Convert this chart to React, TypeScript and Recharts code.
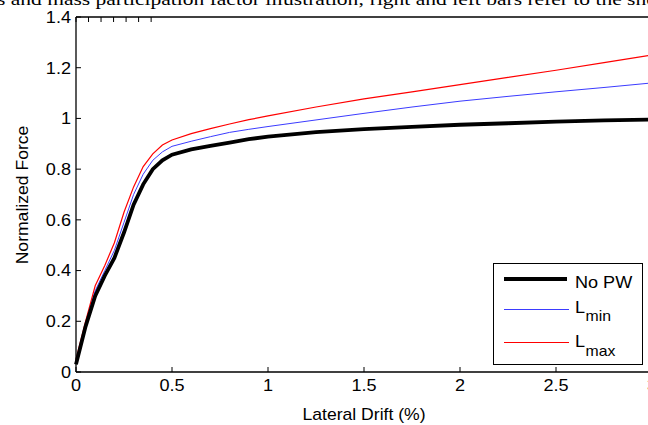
import React from 'react';
import { LineChart, Line, XAxis, YAxis, Legend } from 'recharts';

const drift = [0, 0.05, 0.1, 0.15, 0.2, 0.25, 0.3, 0.35, 0.4, 0.45, 0.5, 0.6, 0.7, 0.8, 0.9, 1.0, 1.25, 1.5, 1.75, 2.0, 2.25, 2.5, 2.75, 3.0];
const noPW = [0.03, 0.18, 0.3, 0.38, 0.45, 0.55, 0.66, 0.74, 0.8, 0.835, 0.857, 0.878, 0.892, 0.905, 0.918, 0.928, 0.946, 0.958, 0.967, 0.975, 0.981, 0.987, 0.992, 0.996];
const lMin = [0.04, 0.19, 0.32, 0.4, 0.48, 0.59, 0.7, 0.78, 0.835, 0.868, 0.89, 0.91, 0.928, 0.945, 0.957, 0.968, 0.994, 1.02, 1.045, 1.068, 1.087, 1.105, 1.122, 1.14];
const lMax = [0.05, 0.2, 0.34, 0.42, 0.51, 0.63, 0.73, 0.81, 0.86, 0.895, 0.915, 0.94, 0.96, 0.978, 0.995, 1.01, 1.045, 1.077, 1.105, 1.133, 1.162, 1.19, 1.22, 1.25];
const xTicks = [0, 0.5, 1, 1.5, 2, 2.5, 3];
const yTicks = [0, 0.2, 0.4, 0.6, 0.8, 1, 1.2, 1.4];
const xTickLabels = ['0', '0.5', '1', '1.5', '2', '2.5', '3'];
const yTickLabels = ['0', '0.2', '0.4', '0.6', '0.8', '1', '1.2', '1.4'];

const data = drift.map((x, i) => ({ x, noPW: noPW[i], lMin: lMin[i], lMax: lMax[i] }));

const FONT = '"Liberation Sans", Arial, sans-serif';
const SX = 1.13;

const XTick = (props: any) => {
  const { x, payload } = props;
  const idx = xTicks.indexOf(payload.value);
  const label = idx >= 0 ? xTickLabels[idx] : String(payload.value);
  return (
    <text transform={`translate(${x},390.5) scale(${SX},1)`} textAnchor="middle" fontFamily={FONT} fontSize={16} fill="#000">
      {label}
    </text>
  );
};

const YTick = (props: any) => {
  const { y, payload } = props;
  const idx = yTicks.indexOf(payload.value);
  const label = idx >= 0 ? yTickLabels[idx] : String(payload.value);
  return (
    <text transform={`translate(71,${y + 5.8}) scale(${SX},1)`} textAnchor="end" fontFamily={FONT} fontSize={16} fill="#000">
      {label}
    </text>
  );
};

const LegendBox = () => (
  <svg width={150} height={102} style={{ display: 'block' }}>
    <rect x={0.5} y={0.5} width={149} height={101} fill="#fff" stroke="#000" strokeWidth={1} />
    <line x1={11} x2={74} y1={16} y2={16} stroke="#000" strokeWidth={4} />
    <text transform={`translate(82,25) scale(${SX},1)`} fontFamily={FONT} fontSize={16} fill="#000">No PW</text>
    <line x1={11} x2={76} y1={46.5} y2={46.5} stroke="#3b3bff" strokeWidth={1} />
    <text transform={`translate(82,49.7) scale(${SX},1)`} fontFamily={FONT} fontSize={16} fill="#000">L</text>
    <text transform={`translate(92.5,57.7) scale(${SX},1)`} fontFamily={FONT} fontSize={14} fill="#000">min</text>
    <line x1={11} x2={76} y1={79.5} y2={79.5} stroke="#ff0000" strokeWidth={1} />
    <text transform={`translate(82,83.7) scale(${SX},1)`} fontFamily={FONT} fontSize={16} fill="#000">L</text>
    <text transform={`translate(92.5,93) scale(${SX},1)`} fontFamily={FONT} fontSize={14} fill="#000">max</text>
  </svg>
);

export default function App() {
  return (
    <div style={{ position: 'absolute', left: 0, top: 0, width: 648, height: 425, overflow: 'hidden', background: '#fff' }}>
      <LineChart width={680} height={425} data={data} margin={{ top: 10, right: 8, left: 16, bottom: 5 }}>
        <XAxis
          xAxisId="b"
          dataKey="x"
          type="number"
          domain={[0, 3]}
          ticks={xTicks}
          height={48}
          tickSize={-5}
          tickMargin={10}
          tick={<XTick />}
          axisLine={{ stroke: '#000', strokeWidth: 1.3 }}
          tickLine={{ stroke: '#000' }}
          interval={0}
          label={{
            content: () => (
              <text transform={`translate(364,420) scale(1.1,1)`} textAnchor="middle" fontFamily={FONT} fontSize={16} fill="#000">
                Lateral Drift (%)
              </text>
            ),
          }}
        />
        <XAxis
          xAxisId="t"
          orientation="top"
          type="number"
          domain={[0, 3]}
          ticks={xTicks}
          height={7}
          tickSize={-5}
          tickFormatter={() => ''}
          axisLine={{ stroke: '#000', strokeWidth: 1.3 }}
          tickLine={{ stroke: '#000' }}
          interval={0}
        />
        <YAxis
          yAxisId="l"
          type="number"
          domain={[0, 1.4]}
          ticks={yTicks}
          width={60}
          tickSize={-5}
          tickMargin={10}
          tick={<YTick />}
          axisLine={{ stroke: '#000', strokeWidth: 1.3 }}
          tickLine={{ stroke: '#000' }}
          interval={0}
          label={{
            content: () => (
              <text transform={`translate(28,195) rotate(-90) scale(1.1,1)`} textAnchor="middle" fontFamily={FONT} fontSize={16} fill="#000">
                Normalized Force
              </text>
            ),
          }}
        />
        <YAxis
          yAxisId="r"
          orientation="right"
          type="number"
          domain={[0, 1.4]}
          ticks={yTicks}
          width={20}
          tickSize={-5}
          tickFormatter={() => ''}
          axisLine={{ stroke: '#000', strokeWidth: 1.3 }}
          tickLine={{ stroke: '#000' }}
          interval={0}
        />
        <Line xAxisId="b" yAxisId="l" type="linear" dataKey="lMax" stroke="#ff0000" strokeWidth={1.2} dot={false} isAnimationActive={false} />
        <Line xAxisId="b" yAxisId="l" type="linear" dataKey="lMin" stroke="#3b3bff" strokeWidth={1} dot={false} isAnimationActive={false} />
        <Line xAxisId="b" yAxisId="l" type="linear" dataKey="noPW" stroke="#000000" strokeWidth={3.8} dot={false} isAnimationActive={false} />
        <Legend
          layout="horizontal"
          verticalAlign="middle"
          align="center"
          content={() => <LegendBox />}
          wrapperStyle={{ position: 'absolute', left: 493, top: 263, width: 150, height: 102, bottom: 'auto', right: 'auto' }}
        />
      </LineChart>
      <svg width={648} height={20} style={{ position: 'absolute', left: 0, top: 0, pointerEvents: 'none' }}>
        <text x={-3} y={5} fontFamily='"Liberation Serif", "Times New Roman", serif' fontSize={17.5} fill="#000" textLength={660} lengthAdjust="spacingAndGlyphs">
          s and mass participation factor illustration; right and left bars refer to the sho
        </text>
      </svg>
    </div>
  );
}
